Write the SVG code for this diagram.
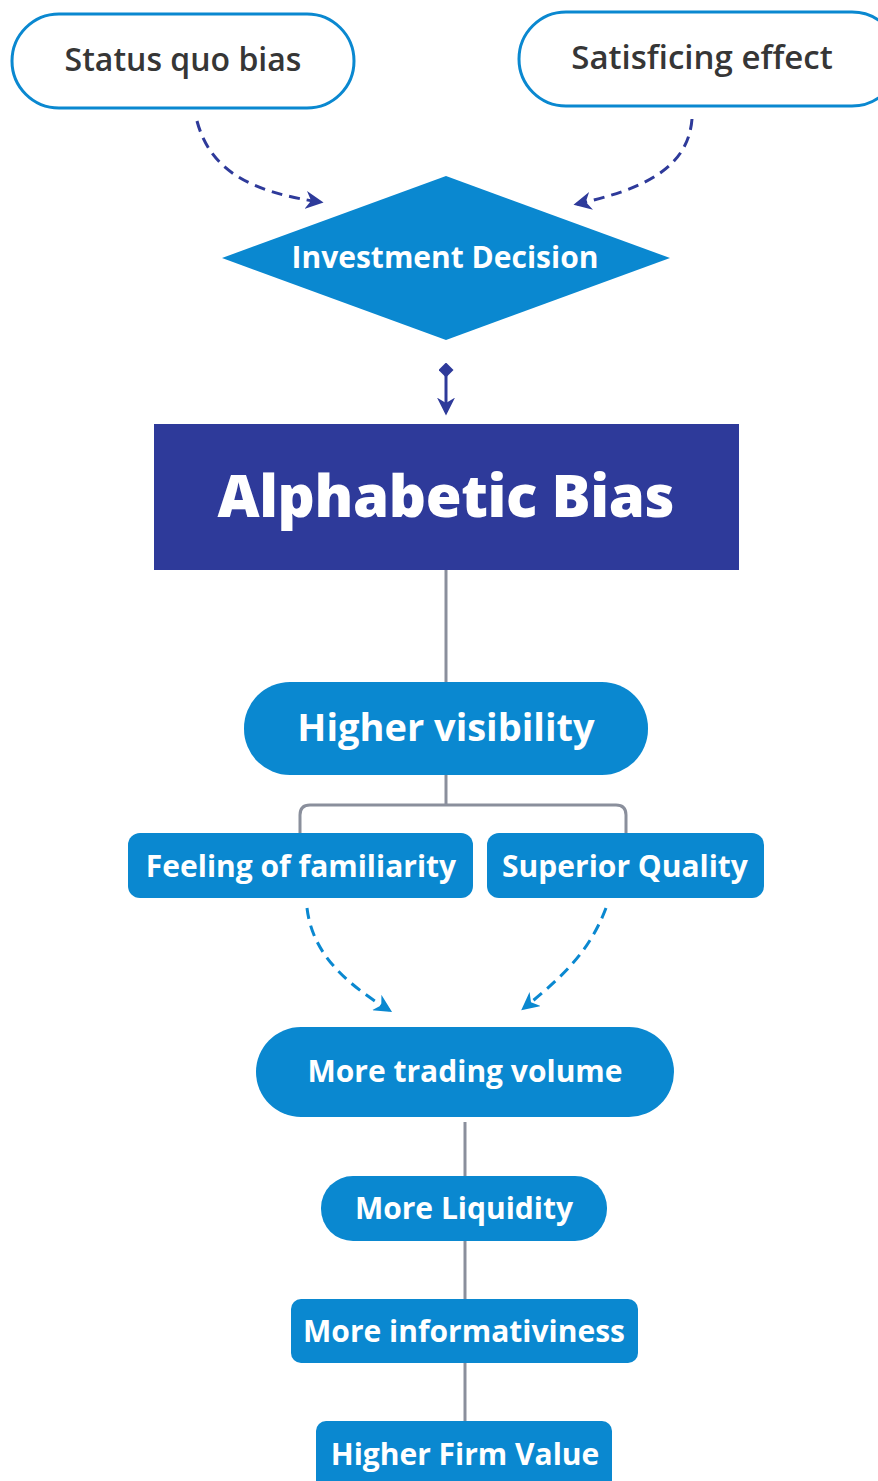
<svg xmlns="http://www.w3.org/2000/svg" width="878" height="1481" viewBox="0 0 878 1481">
  <style>
    .pill-out { fill: #ffffff; stroke: #0a88d0; stroke-width: 3; }
    .blue { fill: #0a88d0; }
    .navy { fill: #2e3a9a; }
    .t-dark { font-family: "Open Sans", "Liberation Sans", sans-serif; font-weight: 600; fill: #363636; text-anchor: middle; }
    .t-white { font-family: "Open Sans", "Liberation Sans", sans-serif; font-weight: 700; fill: #ffffff; text-anchor: middle; }
    .t-title { font-family: "Open Sans", "Liberation Sans", sans-serif; font-weight: 800; fill: #ffffff; text-anchor: middle; }
    .dash-navy { fill: none; stroke: #2e3a9a; stroke-width: 3; stroke-dasharray: 11 7; }
    .dash-blue { fill: none; stroke: #0a88d0; stroke-width: 3; stroke-dasharray: 11 7; }
    .gray { fill: none; stroke: #8a8f9c; stroke-width: 3; }
    .solid-navy { fill: none; stroke: #2e3a9a; stroke-width: 3; }
  </style>
  <defs>
    <marker id="arrowNavy" viewBox="0 0 10 10" refX="8" refY="5" markerWidth="6" markerHeight="6" orient="auto" markerUnits="strokeWidth">
      <path d="M0,0 L10,5 L0,10 L3,5 Z" fill="#2e3a9a"/>
    </marker>
    <marker id="arrowBlue" viewBox="0 0 10 10" refX="8" refY="5" markerWidth="6" markerHeight="6" orient="auto" markerUnits="strokeWidth">
      <path d="M0,0 L10,5 L0,10 L3,5 Z" fill="#0a88d0"/>
    </marker>
    <marker id="diamondNavy" viewBox="0 0 10 10" refX="5" refY="5" markerWidth="5" markerHeight="5" orient="auto" markerUnits="strokeWidth">
      <path d="M0,5 L5,0 L10,5 L5,10 Z" fill="#2e3a9a"/>
    </marker>
  </defs>

  <rect width="878" height="1481" fill="#ffffff"/>

  <!-- connectors -->
  <g id="connectors">
    <path class="dash-navy" d="M197,121 C210,170 250,192 320,202" marker-end="url(#arrowNavy)"/>
    <path class="dash-navy" d="M692,119 C688,170 640,190 577,204" marker-end="url(#arrowNavy)"/>
    <path class="solid-navy" d="M446,370 L446,412" marker-start="url(#diamondNavy)" marker-end="url(#arrowNavy)"/>
    <path class="gray" d="M446,570 L446,682"/>
    <path class="gray" d="M446,775 L446,805"/>
    <path class="gray" d="M300,833 L300,815 Q300,805 310,805 L616,805 Q626,805 626,815 L626,833"/>
    <path class="dash-blue" d="M307,908 C312,950 340,980 389,1010" marker-end="url(#arrowBlue)"/>
    <path class="dash-blue" d="M606,908 C590,950 565,975 524,1008" marker-end="url(#arrowBlue)"/>
    <path class="gray" d="M465,1122 L465,1176"/>
    <path class="gray" d="M465,1241 L465,1299"/>
    <path class="gray" d="M465,1363 L465,1421"/>
  </g>

  <g id="status-quo-bias">
    <rect class="pill-out" x="12" y="14" width="342" height="94" rx="47"/>
    <text class="t-dark" x="183" y="71" font-size="32">Status quo bias</text>
  </g>

  <g id="satisficing-effect">
    <rect class="pill-out" x="519" y="12" width="380" height="94" rx="47"/>
    <text class="t-dark" x="702" y="69" font-size="33">Satisficing effect</text>
  </g>

  <g id="investment-decision">
    <polygon class="blue" points="446,176 670,258 446,340 222,258"/>
    <text class="t-white" x="445" y="268" font-size="30">Investment Decision</text>
  </g>

  <g id="alphabetic-bias">
    <rect class="navy" x="154" y="424" width="585" height="146"/>
    <text class="t-title" x="446" y="517" font-size="58" textLength="457">Alphabetic Bias</text>
  </g>

  <g id="higher-visibility">
    <rect class="blue" x="244" y="682" width="404" height="93" rx="46"/>
    <text class="t-white" x="446" y="741" font-size="38">Higher visibility</text>
  </g>

  <g id="feeling-of-familiarity">
    <rect class="blue" x="128" y="833" width="345" height="65" rx="12"/>
    <text class="t-white" x="301" y="877" font-size="30">Feeling of familiarity</text>
  </g>

  <g id="superior-quality">
    <rect class="blue" x="487" y="833" width="277" height="65" rx="12"/>
    <text class="t-white" x="625" y="877" font-size="30">Superior Quality</text>
  </g>

  <g id="more-trading-volume">
    <rect class="blue" x="256" y="1027" width="418" height="90" rx="45"/>
    <text class="t-white" x="465" y="1082" font-size="30">More trading volume</text>
  </g>

  <g id="more-liquidity">
    <rect class="blue" x="321" y="1176" width="286" height="65" rx="32"/>
    <text class="t-white" x="464" y="1219" font-size="30">More Liquidity</text>
  </g>

  <g id="more-informativiness">
    <rect class="blue" x="291" y="1299" width="347" height="64" rx="10"/>
    <text class="t-white" x="464" y="1342" font-size="30">More informativiness</text>
  </g>

  <g id="higher-firm-value">
    <rect class="blue" x="316" y="1421" width="296" height="70" rx="10"/>
    <text class="t-white" x="465" y="1465" font-size="30">Higher Firm Value</text>
  </g>
</svg>
